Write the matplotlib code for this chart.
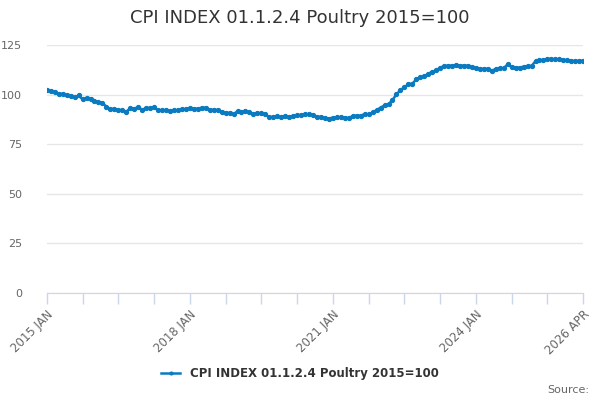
import matplotlib

matplotlib.use("Agg")
import matplotlib.pyplot as plt
import pandas as pd

TITLE = "CPI INDEX 01.1.2.4 Poultry 2015=100"

# monthly index values, 2015 JAN .. 2026 APR
values = [
    102.3, 101.8, 101.5, 100.1, 100.5, 99.6, 99.3, 98.6, 99.6, 97.6, 98.4, 97.8,   # 2015
    96.9, 96.3, 95.9, 93.9, 92.6, 92.9, 92.2, 92.2, 91.4, 93.1, 92.9, 93.7,        # 2016
    92.2, 93.4, 93.1, 93.7, 92.0, 92.2, 92.2, 91.7, 92.2, 92.0, 92.6, 92.7,        # 2017
    93.1, 92.9, 92.9, 93.4, 93.4, 92.2, 92.4, 92.2, 91.2, 90.8, 90.8, 90.0,        # 2018
    91.7, 91.2, 91.7, 91.0, 90.3, 90.8, 90.5, 90.2, 88.5, 88.8, 89.0, 88.7,        # 2019
    89.2, 88.8, 89.2, 89.5, 89.7, 90.0, 90.2, 89.7, 88.9, 88.7, 88.0, 87.9,        # 2020
    88.4, 88.5, 88.5, 88.4, 88.2, 89.2, 89.4, 89.4, 90.2, 90.0, 91.0, 92.2,        # 2021
    93.4, 94.6, 95.1, 97.3, 100.1, 102.3, 103.7, 105.2, 105.5, 107.7, 108.9, 109.2,  # 2022
    110.5, 111.5, 112.2, 113.6, 114.4, 114.6, 114.6, 114.9, 114.6, 114.6, 114.6, 113.8,  # 2023
    113.6, 113.1, 112.9, 113.1, 112.1, 112.9, 113.3, 113.3, 115.3, 113.8, 113.6, 113.6,  # 2024
    114.1, 114.4, 114.4, 116.9, 117.4, 117.4, 118.1, 117.9, 117.8, 117.8, 117.4, 117.4,  # 2025
    117.1, 116.8, 117.1, 117.1,                                                    # 2026
]
months = pd.date_range("2015-01-01", periods=len(values), freq="MS")
y_ticks = [0, 25, 50, 75, 100, 125]
label_months = ["2015-01", "2018-01", "2021-01", "2024-01", "2026-04"]

LINE = "#0a7bc1"
GRID = "#e6e6e6"
AXIS = "#ccd6eb"
TEXT = "#666666"

x = list(range(len(values)))
fig = plt.figure(figsize=(6, 4), dpi=100)
ax = fig.add_axes([0.078, 0.2675, 0.894, 0.62])

ax.plot(x, values, color=LINE, lw=1.8, marker="o", ms=2.8, label=TITLE, zorder=3)

ax.set_xlim(0, len(values) - 1)
ax.set_ylim(0, 125)
ax.set_yticks(y_ticks)
ax.yaxis.grid(True, color=GRID, lw=1)
ax.set_axisbelow(True)
ax.tick_params(axis="y", length=0, pad=18, labelsize=8, labelcolor=TEXT)

# ticks every 9 months, labels only at the reference positions
shown = {months.get_loc(pd.Timestamp(m)) for m in label_months}
ticks = x[::9]
ax.set_xticks(ticks)
ax.set_xticklabels([months[p].strftime("%Y %b").upper() if p in shown else "" for p in ticks],
                   rotation=45, ha="right", rotation_mode="anchor")
ax.tick_params(axis="x", length=8, color=AXIS, width=1, pad=3,
               labelsize=8.5, labelcolor=TEXT)

for side in ("top", "right", "left"):
    ax.spines[side].set_visible(False)
ax.spines["bottom"].set_color(AXIS)

fig.text(0.5, 0.955, TITLE, ha="center", va="center", fontsize=13, color="#333333")
leg = fig.legend(loc="center", bbox_to_anchor=(0.5, 0.065), frameon=False,
                 prop={"weight": "bold", "size": 8.5}, handlelength=1.6, markerscale=0.7)
for t in leg.get_texts():
    t.set_color("#333333")
fig.text(0.982, 0.025, "Source:", ha="right", va="center", fontsize=8, color=TEXT)

fig.savefig("out.png", dpi=100)
